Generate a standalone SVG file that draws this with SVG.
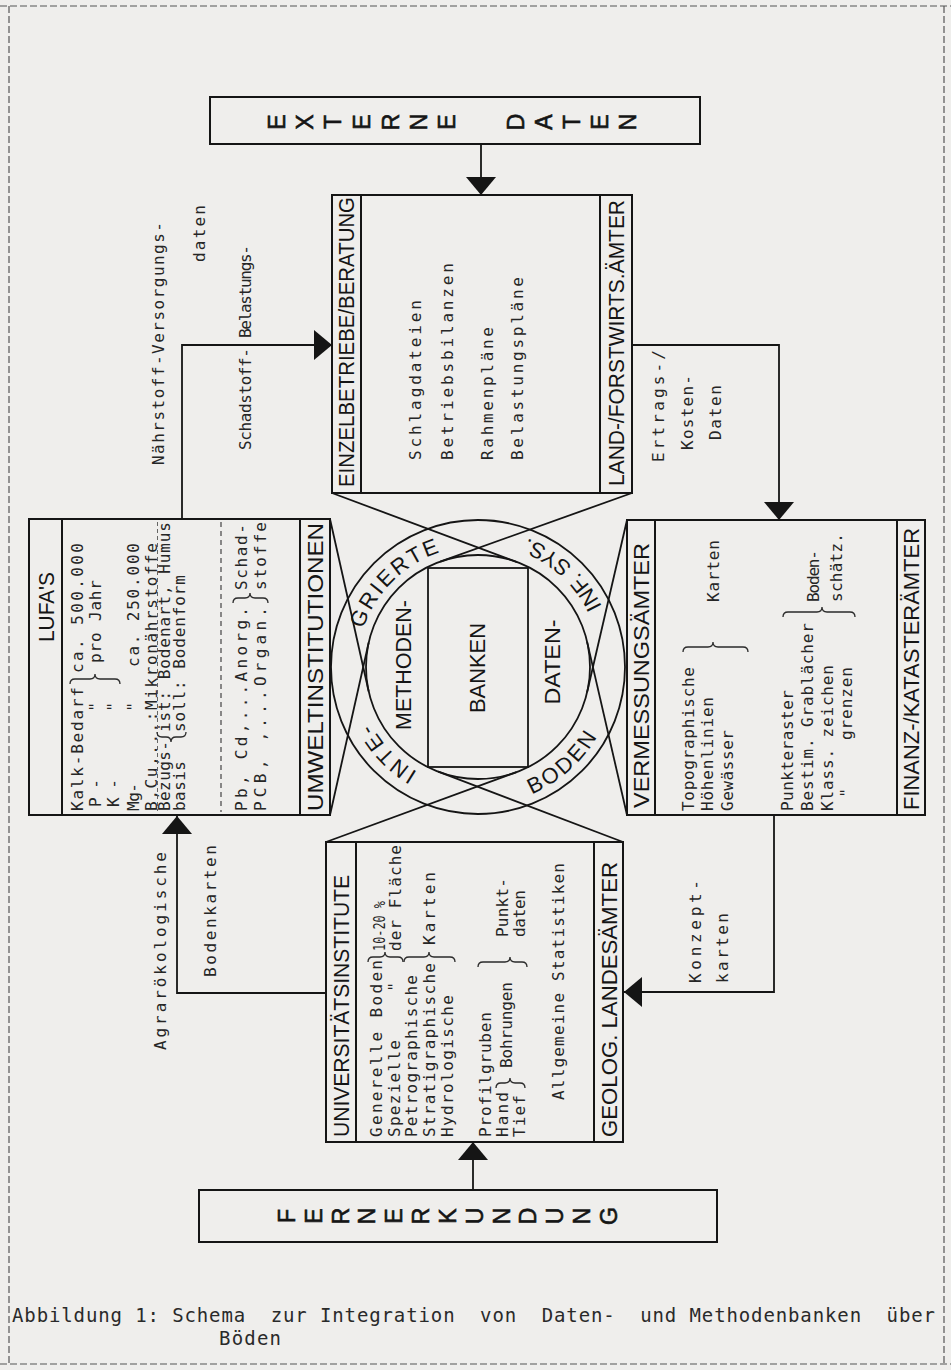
<svg xmlns="http://www.w3.org/2000/svg" width="951" height="1370" viewBox="0 0 951 1370">
<defs>
<style>
.bg{fill:#efeeec}
.fr{fill:none;stroke:#555;stroke-width:1.2;stroke-dasharray:7 3}
.box{fill:none;stroke:#151515;stroke-width:2}
.ln{fill:none;stroke:#151515;stroke-width:1.8}
.br{fill:none;stroke:#2a2a2a;stroke-width:1.3}
.dl{fill:none;stroke:#333;stroke-width:1.1;stroke-dasharray:5 4}
.dl2{fill:none;stroke:#555;stroke-width:0.9;stroke-dasharray:4 3}
.t{font-family:"DejaVu Sans Mono","Liberation Mono",monospace;font-size:16px;fill:#262626;dominant-baseline:central}
.m{text-anchor:middle}
.h{font-family:"Liberation Sans",Arial,sans-serif;font-size:22px;fill:#151515;dominant-baseline:central}
.L{font-family:"Liberation Sans",Arial,sans-serif;font-size:23px;fill:#151515;stroke:#151515;stroke-width:0.6;text-anchor:middle;dominant-baseline:central}
.r{font-family:"Liberation Sans",Arial,sans-serif;font-size:22px;fill:#151515;letter-spacing:2.5px}
.c{font-family:"DejaVu Sans Mono","Liberation Mono",monospace;font-size:19px;fill:#2a2a2a;white-space:pre}
</style>
<marker id="ah" viewBox="0 0 18 30" refX="18" refY="15" markerWidth="18" markerHeight="30" markerUnits="userSpaceOnUse" orient="auto"><path d="M0,0 L18,15 L0,30 Z" fill="#151515"/></marker>
<path id="arcA" d="M436.6,780.7 A121,121 0 0 1 467.5,546.5"/>
<path id="arcB" d="M513.7,800.3 A138,138 0 0 0 502.0,531.1"/>
</defs>
<rect class="bg" x="0" y="0" width="951" height="1370"/>
<g id="frame">
<line class="fr" x1="0" y1="6" x2="951" y2="6"/>
<line class="fr" x1="9" y1="6" x2="9" y2="1364"/>
<line class="fr" x1="944" y1="6" x2="944" y2="1364"/>
<line class="fr" x1="0" y1="1364" x2="951" y2="1364"/>
</g>
<g id="externe">
<rect class="box" x="210" y="97" width="490" height="47"/>
<text class="L" transform="translate(277,122) rotate(-90)">E</text>
<text class="L" transform="translate(305,122) rotate(-90)">X</text>
<text class="L" transform="translate(333,122) rotate(-90)">T</text>
<text class="L" transform="translate(362,122) rotate(-90)">E</text>
<text class="L" transform="translate(391,122) rotate(-90)">R</text>
<text class="L" transform="translate(419,122) rotate(-90)">N</text>
<text class="L" transform="translate(447,122) rotate(-90)">E</text>
<text class="L" transform="translate(516,122) rotate(-90)">D</text>
<text class="L" transform="translate(544,122) rotate(-90)">A</text>
<text class="L" transform="translate(572,122) rotate(-90)">T</text>
<text class="L" transform="translate(600,122) rotate(-90)">E</text>
<text class="L" transform="translate(628,122) rotate(-90)">N</text>
</g>
<g id="einzelbetriebe">
<rect class="box" x="332" y="195" width="300" height="298"/>
<line class="box" x1="361" y1="195" x2="361" y2="493"/>
<line class="box" x1="600" y1="195" x2="600" y2="493"/>
<text class="h" transform="translate(346,487) rotate(-90)" textLength="290" lengthAdjust="spacingAndGlyphs">EINZELBETRIEBE/BERATUNG</text>
<text class="h" transform="translate(616,486) rotate(-90)" textLength="286" lengthAdjust="spacingAndGlyphs">LAND-/FORSTWIRTS.ÄMTER</text>
<text class="t" transform="translate(415,460) rotate(-90)" textLength="160">Schlagdateien</text>
<text class="t" transform="translate(447,460) rotate(-90)" textLength="197">Betriebsbilanzen</text>
<text class="t" transform="translate(487,460) rotate(-90)" textLength="133">Rahmenpläne</text>
<text class="t" transform="translate(517,460) rotate(-90)" textLength="183">Belastungspläne</text>
</g>
<g id="lufa">
<rect class="box" x="29" y="519" width="301" height="296"/>
<line class="box" x1="62" y1="519" x2="62" y2="815"/>
<line class="box" x1="300" y1="519" x2="300" y2="815"/>
<text class="h m" transform="translate(46,607) rotate(-90)" textLength="70" lengthAdjust="spacingAndGlyphs">LUFA'S</text>
<text class="t" transform="translate(77,811) rotate(-90)" textLength="124">Kalk-Bedarf</text>
<text class="t" transform="translate(77,673) rotate(-90)" textLength="130">ca. 500.000</text>
<text class="t" transform="translate(95,807) rotate(-90)" textLength="28">P -</text>
<text class="t m" transform="translate(95,707) rotate(-90)">"</text>
<text class="t" transform="translate(95,663) rotate(-90)" textLength="83">pro Jahr</text>
<text class="t" transform="translate(113,807) rotate(-90)" textLength="28">K -</text>
<text class="t m" transform="translate(113,707) rotate(-90)">"</text>
<text class="t" transform="translate(133,811) rotate(-90)" textLength="28">Mg-</text>
<text class="t m" transform="translate(133,707) rotate(-90)">"</text>
<text class="t" transform="translate(133,667) rotate(-90)" textLength="124">ca. 250.000</text>
<text class="t" transform="translate(151,811) rotate(-90)" textLength="268">B,Cu,...:Mikronährstoffe</text>
<line class="dl2" x1="157.5" y1="522" x2="157.5" y2="811"/>
<text class="t" transform="translate(164,811) rotate(-90)" textLength="70">Bezugs-</text>
<text class="t" transform="translate(164,732) rotate(-90)" textLength="210">ist: Bodenart, Humus</text>
<text class="t" transform="translate(179,811) rotate(-90)" textLength="50">basis</text>
<text class="t" transform="translate(179,732) rotate(-90)" textLength="157">soll: Bodenform</text>
<path class="br" d="M70,684 Q70,679 75,679 L90,679 Q95,679 95,674 Q95,679 100,679 L115,679 Q120,679 120,684"/>
<path class="br" d="M157,732 Q157,737 162,737 L166,737 Q171,737 171,742 Q171,737 176,737 L181,737 Q186,737 186,732"/>
<line class="dl" x1="221" y1="522" x2="221" y2="812"/>
<text class="t" transform="translate(241,811) rotate(-90)" textLength="204">Pb, Cd,...Anorg.</text>
<text class="t" transform="translate(241,590) rotate(-90)" textLength="66">Schad-</text>
<text class="t" transform="translate(260,811) rotate(-90)" textLength="204">PCB, ,...Organ.</text>
<text class="t" transform="translate(260,590) rotate(-90)" textLength="68">stoffe</text>
<path class="br" d="M233,603 Q233,598 238,598 L245,598 Q250,598 250,593 Q250,598 255,598 L263,598 Q268,598 268,603"/>
<text class="h" transform="translate(315,811) rotate(-90)" textLength="288" lengthAdjust="spacingAndGlyphs">UMWELTINSTITUTIONEN</text>
</g>
<g id="vermessung">
<rect class="box" x="627" y="520" width="298" height="295"/>
<line class="box" x1="655" y1="520" x2="655" y2="815"/>
<line class="box" x1="897" y1="520" x2="897" y2="815"/>
<text class="h" transform="translate(641,808) rotate(-90)" textLength="265" lengthAdjust="spacingAndGlyphs">VERMESSUNGSÄMTER</text>
<text class="h" transform="translate(911,810) rotate(-90)" textLength="282" lengthAdjust="spacingAndGlyphs">FINANZ-/KATASTERÄMTER</text>
<text class="t" transform="translate(688,811) rotate(-90)" textLength="144">Topographische</text>
<text class="t" transform="translate(707,811) rotate(-90)" textLength="114">Höhenlinien</text>
<text class="t" transform="translate(727,811) rotate(-90)" textLength="81">Gewässer</text>
<path class="br" d="M683,652 Q683,647 688,647 L708,647 Q713,647 713,642 Q713,647 718,647 L743,647 Q748,647 748,652"/>
<text class="t" transform="translate(713,602) rotate(-90)" textLength="62">Karten</text>
<text class="t" transform="translate(787,811) rotate(-90)" textLength="121">Punkteraster</text>
<text class="t" transform="translate(807,811) rotate(-90)" textLength="188">Bestim. Grablächer</text>
<text class="t" transform="translate(827,811) rotate(-90)" textLength="146">Klass.  zeichen</text>
<text class="t m" transform="translate(846,793) rotate(-90)">"</text>
<text class="t" transform="translate(846,740) rotate(-90)" textLength="73">grenzen</text>
<path class="br" d="M783,617 Q783,612 788,612 L817,612 Q822,612 822,607 Q822,612 827,612 L850,612 Q855,612 855,617"/>
<text class="t" transform="translate(813,602) rotate(-90)" textLength="52">Boden-</text>
<text class="t" transform="translate(836,602) rotate(-90)" textLength="69">schätz.</text>
</g>
<g id="universitaet">
<rect class="box" x="326" y="842" width="297" height="300"/>
<line class="box" x1="356" y1="842" x2="356" y2="1142"/>
<line class="box" x1="594" y1="842" x2="594" y2="1142"/>
<text class="h" transform="translate(341,1137) rotate(-90)" textLength="262" lengthAdjust="spacingAndGlyphs">UNIVERSITÄTSINSTITUTE</text>
<text class="h" transform="translate(609,1137) rotate(-90)" textLength="275" lengthAdjust="spacingAndGlyphs">GEOLOG. LANDESÄMTER</text>
<text class="t" transform="translate(376,1137) rotate(-90)" textLength="177">Generelle Boden</text>
<text class="t" transform="translate(379,951) rotate(-90)" textLength="50" lengthAdjust="spacingAndGlyphs">10-20 %</text>
<text class="t" transform="translate(394,1137) rotate(-90)" textLength="97">Spezielle</text>
<text class="t m" transform="translate(394,987) rotate(-90)">"</text>
<text class="t" transform="translate(395,951) rotate(-90)" textLength="106">der Fläche</text>
<path class="br" d="M368,962 Q368,957 373,957 L380,957 Q385,957 385,952 Q385,957 390,957 L398,957 Q403,957 403,962"/>
<text class="t" transform="translate(411,1137) rotate(-90)" textLength="162">Petrographische</text>
<text class="t" transform="translate(429,1137) rotate(-90)" textLength="174">Stratigraphische</text>
<text class="t" transform="translate(447,1137) rotate(-90)" textLength="142">Hydrologische</text>
<path class="br" d="M404,962 Q404,957 409,957 L424,957 Q429,957 429,952 Q429,957 434,957 L450,957 Q455,957 455,962"/>
<text class="t" transform="translate(429,945) rotate(-90)" textLength="73">Karten</text>
<text class="t" transform="translate(485,1137) rotate(-90)" textLength="125">Profilgruben</text>
<text class="t" transform="translate(502,1137) rotate(-90)" textLength="45">Hand</text>
<text class="t" transform="translate(519,1137) rotate(-90)" textLength="42">Tief</text>
<path class="br" d="M496,1088 Q496,1083 501,1083 L505,1083 Q510,1083 510,1078 Q510,1083 515,1083 L520,1083 Q525,1083 525,1088"/>
<text class="t" transform="translate(506,1068) rotate(-90)" textLength="86">Bohrungen</text>
<path class="br" d="M478,967 Q478,962 483,962 L505,962 Q510,962 510,957 Q510,962 515,962 L522,962 Q527,962 527,967"/>
<text class="t" transform="translate(502,937) rotate(-90)" textLength="59">Punkt-</text>
<text class="t" transform="translate(519,937) rotate(-90)" textLength="47">daten</text>
<text class="t" transform="translate(558,1100) rotate(-90)" textLength="237">Allgemeine Statistiken</text>
</g>
<g id="center">
<circle class="ln" cx="478" cy="667" r="147"/>
<circle class="ln" cx="478" cy="667" r="112"/>
<rect class="ln" x="428" y="568" width="100" height="199"/>
<text class="h m" transform="translate(403,665) rotate(-90)" textLength="130" lengthAdjust="spacingAndGlyphs">METHODEN-</text>
<text class="h m" transform="translate(477,668) rotate(-90)" textLength="90" lengthAdjust="spacingAndGlyphs">BANKEN</text>
<text class="h m" transform="translate(552,662) rotate(-90)" textLength="85" lengthAdjust="spacingAndGlyphs">DATEN-</text>
<text class="r"><textPath href="#arcA" startOffset="21">INTE-</textPath></text>
<text class="r"><textPath href="#arcA" startOffset="186">GRIERTE</textPath></text>
<text class="r"><textPath href="#arcB" startOffset="19">BODEN</textPath></text>
<text class="r" style="letter-spacing:1px"><textPath href="#arcB" startOffset="243">INF. SYS.</textPath></text>
</g>
<g id="fernerkundung">
<rect class="box" x="199" y="1190" width="518" height="52"/>
<text class="L" transform="translate(287,1216) rotate(-90)">F</text>
<text class="L" transform="translate(314,1216) rotate(-90)">E</text>
<text class="L" transform="translate(341,1216) rotate(-90)">R</text>
<text class="L" transform="translate(367,1216) rotate(-90)">N</text>
<text class="L" transform="translate(394,1216) rotate(-90)">E</text>
<text class="L" transform="translate(421,1216) rotate(-90)">R</text>
<text class="L" transform="translate(448,1216) rotate(-90)">K</text>
<text class="L" transform="translate(475,1216) rotate(-90)">U</text>
<text class="L" transform="translate(502,1216) rotate(-90)">N</text>
<text class="L" transform="translate(528,1216) rotate(-90)">D</text>
<text class="L" transform="translate(555,1216) rotate(-90)">U</text>
<text class="L" transform="translate(582,1216) rotate(-90)">N</text>
<text class="L" transform="translate(609,1216) rotate(-90)">G</text>
</g>
<g id="connectors">
<path class="ln" d="M481,144 V195" marker-end="url(#ah)"/>
<path class="ln" d="M182,519 V345 H332" marker-end="url(#ah)"/>
<path class="ln" d="M632,345 H779 V520" marker-end="url(#ah)"/>
<path class="ln" d="M774,815 V992 H624" marker-end="url(#ah)"/>
<path class="ln" d="M326,993 H177 V816" marker-end="url(#ah)"/>
<path class="ln" d="M473,1190 V1142" marker-end="url(#ah)"/>
<line class="ln" x1="332" y1="493" x2="517.1" y2="562.1"/>
<line class="ln" x1="632" y1="493" x2="440.2" y2="561.6"/>
<line class="ln" x1="330" y1="519" x2="368.7" y2="691.5"/>
<line class="ln" x1="330" y1="815" x2="368.7" y2="642.5"/>
<line class="ln" x1="627" y1="520" x2="587.1" y2="692.3"/>
<line class="ln" x1="627" y1="815" x2="587.1" y2="641.9"/>
<line class="ln" x1="326" y1="842" x2="516.5" y2="772.2"/>
<line class="ln" x1="623" y1="842" x2="438.2" y2="771.7"/>
<text class="t" transform="translate(158,465) rotate(-90)" textLength="243">Nährstoff-Versorgungs-</text>
<text class="t" transform="translate(199,262) rotate(-90)" textLength="57">daten</text>
<text class="t" transform="translate(245,450) rotate(-90)" textLength="102">Schadstoff-</text>
<text class="t" transform="translate(245,338) rotate(-90)" textLength="93">Belastungs-</text>
<text class="t" transform="translate(160,1050) rotate(-90)" textLength="198">Agrarökologische</text>
<text class="t" transform="translate(210,977) rotate(-90)" textLength="132">Bodenkarten</text>
<text class="t" transform="translate(658,462) rotate(-90)" textLength="112">Ertrags-/</text>
<text class="t" transform="translate(687,450) rotate(-90)" textLength="75">Kosten-</text>
<text class="t" transform="translate(715,440) rotate(-90)" textLength="55">Daten</text>
<text class="t" transform="translate(695,983) rotate(-90)" textLength="103">Konzept-</text>
<text class="t" transform="translate(722,983) rotate(-90)" textLength="70">karten</text>
</g>
<g id="caption">
<text class="c" x="12" y="1322" textLength="923">Abbildung 1: Schema  zur Integration  von  Daten-  und Methodenbanken  über</text>
<text class="c" x="219" y="1345" textLength="62">Böden</text>
</g>
</svg>
